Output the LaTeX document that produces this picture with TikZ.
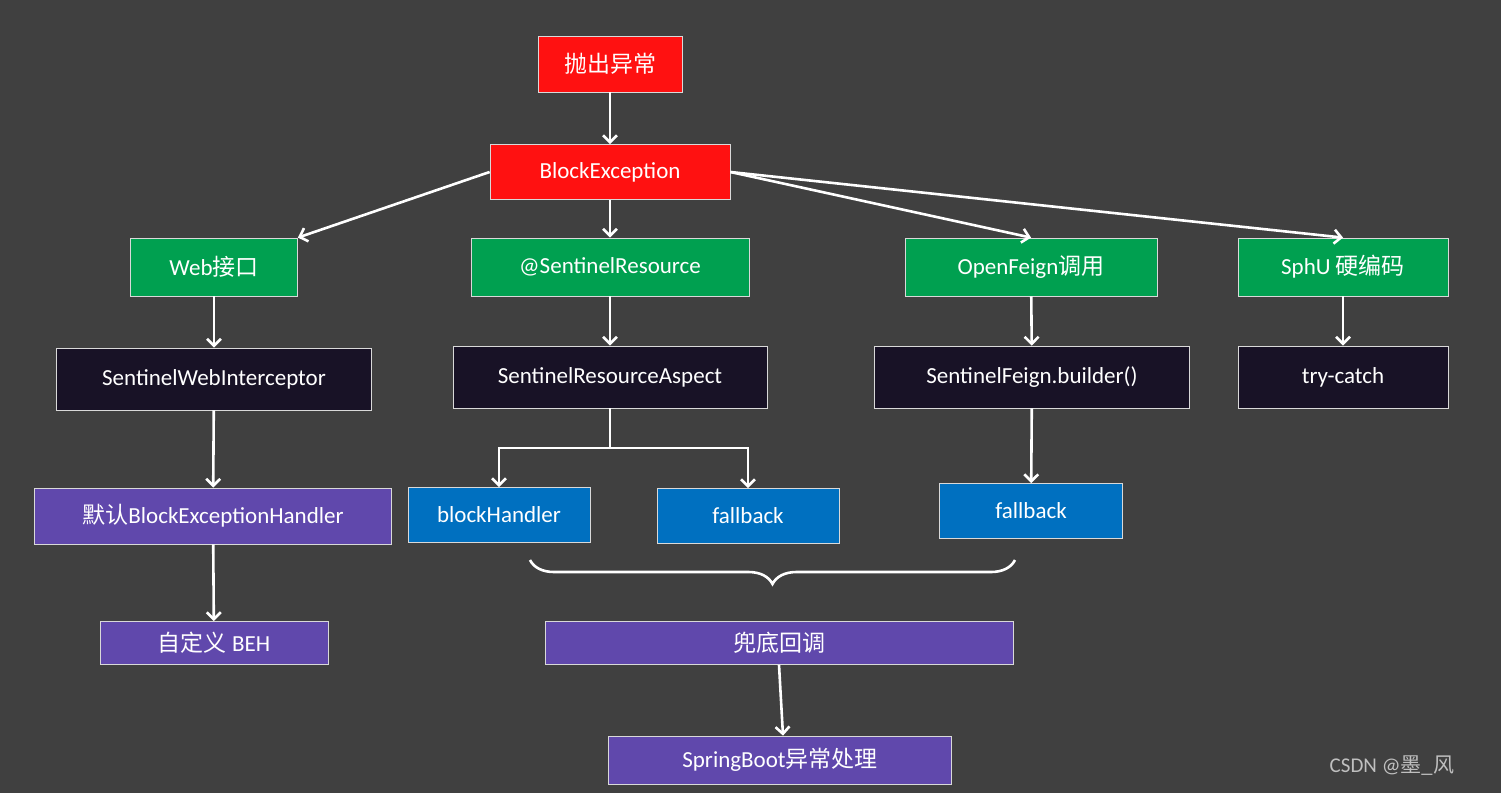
\documentclass[tikz,border=0pt]{standalone}
\usepackage{fontspec}
\setmainfont{Carlito}
\newfontfamily\cjk{Noto Sans CJK SC}
\usetikzlibrary{
  arrows.meta,                % arrow tips
  decorations.pathreplacing   % curly brace
}
\definecolor{bg}{RGB}{64,64,64}
\definecolor{ex}{RGB}{255,17,17}
\definecolor{en}{RGB}{0,160,80}
\definecolor{im}{RGB}{24,18,38}
\definecolor{cb}{RGB}{0,112,192}
\definecolor{hd}{RGB}{96,72,172}
\tikzset{
  x=1pt, y=-1pt,
  every node/.style = {
    rectangle,
    draw=white!85!black,
    line width=0.8pt,
    text=white,
    inner sep=2pt,
    font=\fontsize{23}{26}\selectfont
  },
  ex/.append style = {fill=ex},
  en/.append style = {fill=en, minimum height=58pt},
  im/.append style = {fill=im, minimum height=62pt},
  cb/.append style = {fill=cb, minimum height=55pt},
  hd/.append style = {fill=hd},
  link/.style = {draw=white, line width=2.6pt, -{Straight Barb[length=7pt,width=14pt]}},
  >=Straight Barb
}
\begin{document}
\begin{tikzpicture}

  \fill[bg] (0,0) rectangle (1501,793);

  %% nodes
  \node[ex, minimum width=144pt, minimum height=56pt] (T)  at (610,64)  {{\cjk 抛出异常}};
  \node[ex, minimum width=240pt, minimum height=55pt] (BE) at (610,172) {BlockException};

  \node[en, minimum width=167pt] (WEB) at (214,267)  {Web{\cjk 接口}};
  \node[en, minimum width=278pt] (SR)  at (610,267)  {@SentinelResource};
  \node[en, minimum width=252pt] (OF)  at (1031,267) {OpenFeign{\cjk 调用}};
  \node[en, minimum width=210pt] (SPH) at (1343,267) {SphU {\cjk 硬编码}};

  \node[im, minimum width=315pt] (SWI) at (214,379)  {SentinelWebInterceptor};
  \node[im, minimum width=314pt] (SRA) at (610,377)  {SentinelResourceAspect};
  \node[im, minimum width=315pt] (SFB) at (1032,377) {SentinelFeign.builder()};
  \node[im, minimum width=210pt] (TC)  at (1343,377) {try-catch};

  \node[hd, minimum width=357pt, minimum height=56pt] (DBEH) at (213,516) {{\cjk 默认}BlockExceptionHandler};
  \node[cb, minimum width=182pt] (BH)  at (499,515)  {blockHandler};
  \node[cb, minimum width=182pt] (FB)  at (748,516)  {fallback};
  \node[cb, minimum width=183pt] (FB2) at (1031,511) {fallback};

  \node[hd, minimum width=228pt, minimum height=43pt] (CBEH) at (214,643) {{\cjk 自定义} BEH};
  \node[hd, minimum width=468pt, minimum height=43pt] (DD)   at (779,643) {{\cjk 兜底回调}};
  \node[hd, minimum width=343pt, minimum height=48pt] (SB)   at (780,760) {SpringBoot{\cjk 异常处理}};

  \node[draw=none, text=white!75!black, font=\fontsize{21}{24}\selectfont] (WM) at (1392,766) {CSDN @{\cjk 墨\_风}};

  \coordinate (split) at (610,448);
  \coordinate (braceR) at (1015,560);
  \coordinate (braceL) at (530,560);

  %% arrows
  \draw[link] (T) -- (BE);
  \draw[link] (BE.west) -- (WEB.north east);
  \draw[link] (BE) -- (SR);
  \draw[link] (BE.east) -- (OF.north);
  \draw[link] (BE.east) -- (SPH.north);

  \draw[link] (WEB) -- (SWI);
  \draw[link] (SR) -- (SRA);
  \draw[link] (OF) -- (SFB);
  \draw[link] (SPH) -- (TC);

  \draw[link] (SWI) -- (DBEH);
  \draw[link] (DBEH) -- (CBEH);
  \draw[link] (SRA.south) -- (split) -| (BH.north);
  \draw[link] (split) -| (FB.north);
  \draw[link] (SFB) -- (FB2);

  \draw[draw=white, line width=2.6pt, decorate,
        decoration={brace, amplitude=24pt}] (braceR) -- (braceL);
  \draw[link] (DD.south -| 779,0) -- (SB.north -| 783,0);

\end{tikzpicture}
\end{document}
